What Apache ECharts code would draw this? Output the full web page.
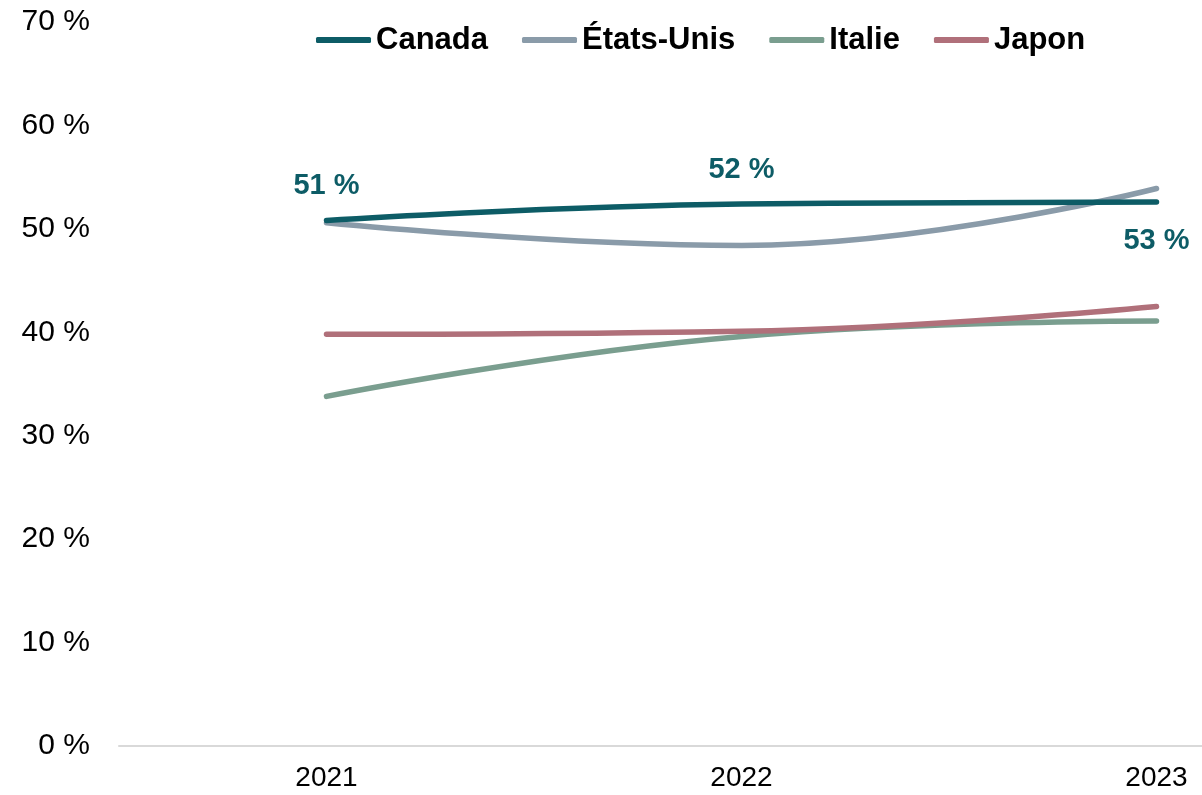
<!DOCTYPE html>
<html lang="fr">
<head>
<meta charset="utf-8">
<title>Part en pourcentage, 2021-2023</title>
<script src="https://cdn.jsdelivr.net/npm/echarts@6/dist/echarts.min.js"></script>
<style>
  html, body { margin: 0; padding: 0; background: #ffffff; }
  #chart { width: 1202px; height: 795px; }
</style>
</head>
<body>
<div id="chart"></div>
<script>
// Years on the horizontal axis
const years = ['2021', '2022', '2023'];

// Shares (%) per country
const canada = [50.8, 52.4, 52.6];
const etatsUnis = [50.6, 48.4, 53.9];
const italie = [33.8, 39.6, 41.1];
const japon = [39.8, 40.1, 42.5];

// Y axis range and step (%)
const yMin = 0;
const yMax = 70;
const yStep = 10;

const FONT = '"Liberation Sans", Arial, sans-serif';

const colors = {
  canada: '#0d5c66',
  etatsUnis: '#8a9ba9',
  italie: '#7a9e8f',
  japon: '#b0707a'
};

// Canada labels: above for the first two years, below for the last
const canadaLabelPos = ['top', 'top', 'bottom'];
const canadaLabelGap = [20, 20, 25];

function lineSeries(name, values, color) {
  return {
    name: name,
    type: 'line',
    data: values,
    smooth: 0.45,
    symbol: 'circle',
    symbolSize: 0,
    showSymbol: true,
    lineStyle: { color: color, width: 5.5, cap: 'round' },
    itemStyle: { color: color },
    z: 2
  };
}

const canadaSeries = lineSeries('Canada', canada.map((v, i) => ({
  value: v,
  label: { show: true, position: canadaLabelPos[i], distance: canadaLabelGap[i] }
})), colors.canada);
canadaSeries.label = {
  show: true,
  color: colors.canada,
  fontFamily: FONT,
  fontWeight: 'bold',
  fontSize: 29,
  distance: 20,
  formatter: p => Math.round(p.value) + ' %'
};
canadaSeries.z = 4;

const chart = echarts.init(document.getElementById('chart'), null, { renderer: 'canvas' });

chart.setOption({
  animation: false,
  backgroundColor: '#ffffff',
  legend: {
    left: 311,
    top: 18,
    icon: 'roundRect',
    itemWidth: 55,
    itemHeight: 6,
    itemGap: 34,
    textStyle: {
      fontFamily: FONT,
      fontWeight: 'bold',
      fontSize: 31,
      lineHeight: 34,
      color: '#000000',
      padding: [0, 0, 0, 0]
    },
    data: ['Canada', 'États-Unis', 'Italie', 'Japon']
  },
  // The plot area runs past the right edge of the page; the axis line is cut there
  grid: {
    left: 119,
    width: 1245,
    top: 22,
    bottom: 49,
    containLabel: false,
    outerBoundsMode: 'none'
  },
  xAxis: {
    type: 'category',
    data: years,
    boundaryGap: true,
    axisLine: { show: true, lineStyle: { color: '#d9d9d9', width: 2 } },
    axisTick: { show: false },
    axisLabel: {
      fontFamily: FONT,
      fontSize: 28,
      color: '#000000',
      margin: 18
    },
    splitLine: { show: false }
  },
  yAxis: {
    type: 'value',
    min: yMin,
    max: yMax,
    interval: yStep,
    axisLine: { show: false },
    axisTick: { show: false },
    splitLine: { show: false },
    axisLabel: {
      fontFamily: FONT,
      fontSize: 30,
      color: '#000000',
      margin: 29,
      formatter: v => v + ' %'
    }
  },
  series: [
    canadaSeries,
    lineSeries('États-Unis', etatsUnis, colors.etatsUnis),
    lineSeries('Italie', italie, colors.italie),
    lineSeries('Japon', japon, colors.japon)
  ]
});
</script>
</body>
</html>
